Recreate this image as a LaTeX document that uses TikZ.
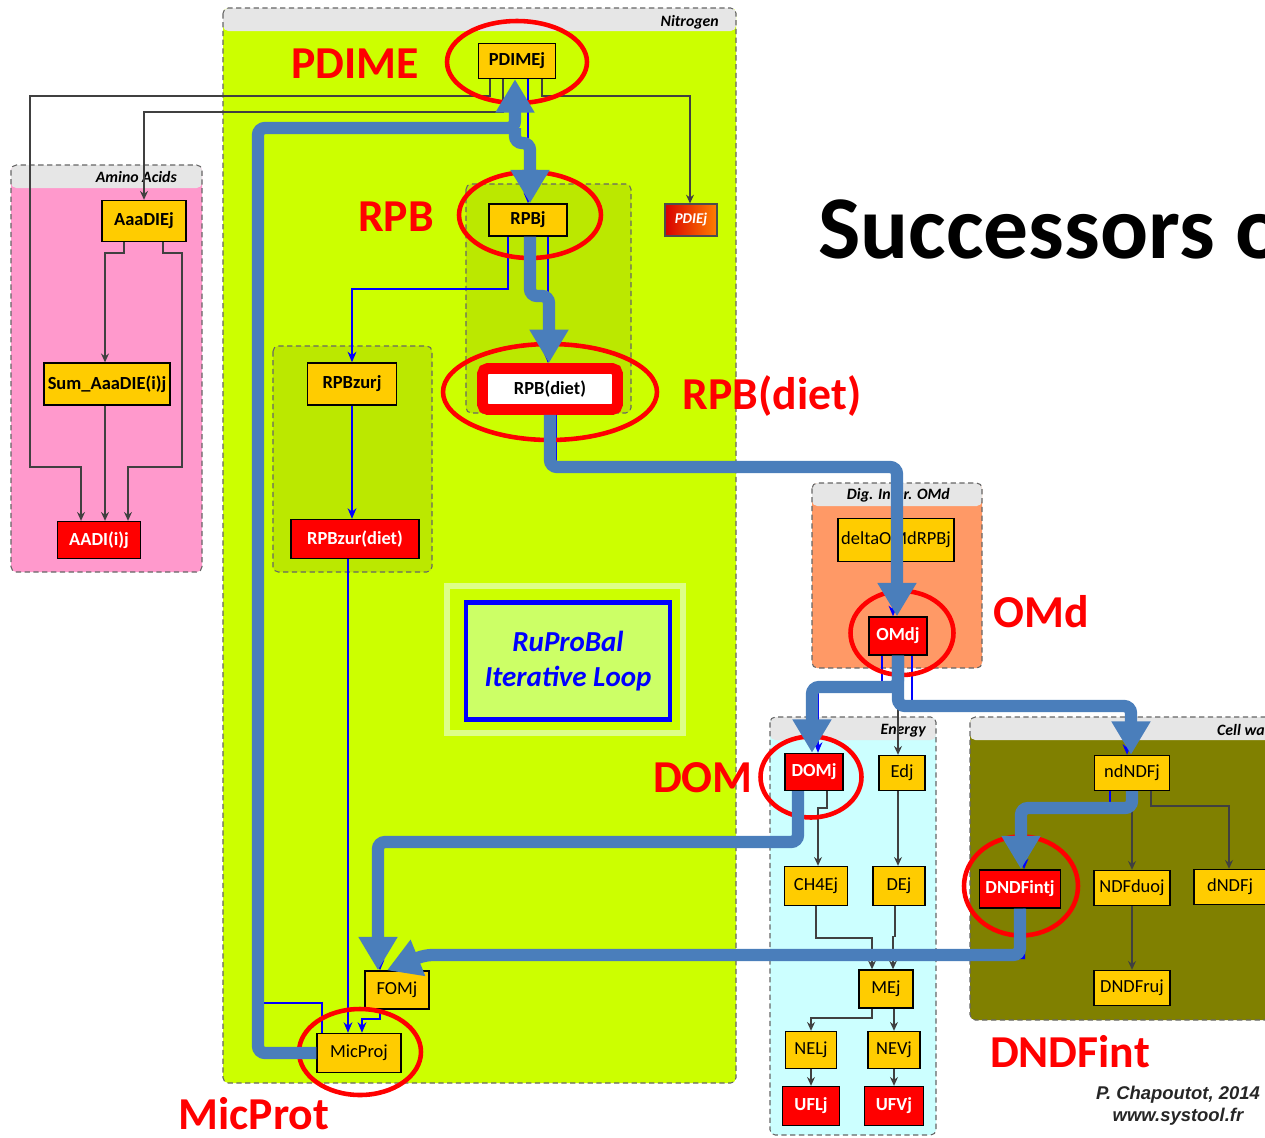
\documentclass[tikz,border=0pt]{standalone}
\usepackage{fontspec}
\setmainfont{Carlito}
\newfontfamily\creditfont{Liberation Sans}
\usepackage{xcolor}
\usepackage{tikz}
\usetikzlibrary{positioning,arrows.meta,shapes.geometric,calc}
\definecolor{nitrofill}{RGB}{204,255,0}
\definecolor{subfill}{RGB}{187,232,0}
\definecolor{aminofill}{RGB}{255,153,204}
\definecolor{omdfill}{RGB}{255,153,102}
\definecolor{energyfill}{RGB}{204,255,255}
\definecolor{cellfill}{RGB}{128,128,0}
\definecolor{headgray}{RGB}{230,230,230}
\definecolor{varyellow}{RGB}{255,204,0}
\definecolor{varred}{RGB}{255,0,0}
\definecolor{flowblue}{RGB}{74,126,187}
\definecolor{loopfill}{RGB}{204,255,102}
\definecolor{loopframe}{RGB}{221,255,136}
\tikzset{
  panel/.style={draw=black!60, dash pattern=on 3pt off 2pt, line width=0.6pt, rounded corners=3pt,
                path picture={\fill[headgray] (path picture bounding box.north west)
                  rectangle ([yshift=-0.46cm]path picture bounding box.north east);}},
  subpanel/.style={draw=black!60, dash pattern=on 3pt off 2pt, line width=0.6pt,
                   rounded corners=3pt, fill=subfill},
  paneltitle/.style={anchor=east, font=\fontsize{9}{10}\selectfont\bfseries\itshape},
  var/.style={draw=black, line width=0.8pt, fill=varyellow, inner sep=1pt,
              font=\fontsize{10.5}{12}\selectfont},
  boldvar/.style={var, font=\fontsize{10.5}{12}\selectfont\bfseries},
  outvar/.style={var, fill=varred, text=white, font=\fontsize{10.5}{12}\selectfont\bfseries},
  ring/.style={ellipse, draw=red, line width=2.6pt, inner sep=0pt},
  tag/.style={anchor=base, text=red, font=\fontsize{26}{30}\selectfont\bfseries},
  link/.style={draw=black!75, line width=0.7pt, -{Stealth[length=5pt,width=4.5pt]}},
  nlink/.style={draw=blue, line width=1.2pt, -{Stealth[length=6pt,width=5pt]}},
  flow/.style={draw=flowblue, line width=7pt, rounded corners=4pt,
               -{Triangle[length=19pt,width=21pt]}},
}

\begin{document}
\begin{tikzpicture}[x=0.02cm, y=-0.02cm]
  \useasboundingbox (0,0) rectangle (1265,1137);
  \clip (0,0) rectangle (1265,1137);

  % panels
  \path[panel, fill=nitrofill] (223,8) rectangle (736,1083);
  \path[panel, fill=aminofill] (11,165) rectangle (202,572);
  \path[panel, fill=omdfill] (812,483) rectangle (982,668);
  \path[panel, fill=energyfill] (770,717) rectangle (936,1135);
  \path[panel, fill=cellfill] (970,717) rectangle (1300,1020);
  \path[subpanel] (466,184) rectangle (631,413);
  \path[subpanel] (273,346) rectangle (432,572);
  \node[paneltitle] (nitrotitle) at (725,22) {Nitrogen};
  \node[paneltitle] (aminotitle) at (183,177) {Amino Acids};
  \node[paneltitle] (omdtitle) at (956,495) {Dig. Inter. OMd};
  \node[paneltitle] (energytitle) at (932,731) {Energy};
  \node[paneltitle, anchor=west] (celltitle) at (1211,730) {Cell wall};

  % loop box
  \draw[loopframe, line width=3.4pt] (447,586) rectangle (683,733);
  \node[draw=blue, line width=2.8pt, fill=loopfill, minimum width=4.08cm, minimum height=2.34cm,
        align=center, text=blue, font=\fontsize{16.5}{20}\selectfont\bfseries\itshape]
        (loopbox) at (568,661) {RuProBal\\Iterative Loop};

  % variables
  \node[boldvar, minimum width=1.68cm, minimum height=0.82cm] (AaaDIEj) at (144,221) {AaaDIEj};
  \node[boldvar, minimum width=2.52cm, minimum height=0.84cm] (SumAaa) at (107,384) {Sum\_AaaDIE(i)j};
  \node[outvar, minimum width=1.66cm, minimum height=0.74cm] (AADI) at (99,540) {AADI(i)j};

  \node[boldvar, minimum width=1.54cm, minimum height=0.70cm] (PDIMEj) at (517,61) {PDIMEj};
  \node[boldvar, minimum width=1.56cm, minimum height=0.64cm] (RPBj) at (528,220) {RPBj};
  \node[draw=black!70, line width=0.6pt, left color=red!85!black, right color=orange, text=white,
        inner sep=1pt, font=\fontsize{8.5}{10}\selectfont\bfseries\itshape,
        minimum width=1.04cm, minimum height=0.64cm] (PDIEj) at (691,220) {PDIEj};
  \node[draw=varred, line width=6.2pt, fill=white, rounded corners=3pt, inner sep=1pt,
        minimum width=2.70cm, minimum height=0.82cm, font=\fontsize{10.5}{12}\selectfont\bfseries]
        (RPBdiet) at (550,389) {RPB(diet)};
  \node[boldvar, minimum width=1.78cm, minimum height=0.84cm] (RPBzurj) at (352,384) {RPBzurj};
  \node[outvar, minimum width=2.56cm, minimum height=0.78cm] (RPBzurdiet) at (355,539) {RPBzur(diet)};
  \node[var, minimum width=1.28cm, minimum height=0.76cm] (FOMj) at (397,990) {FOMj};
  \node[var, minimum width=1.68cm, minimum height=0.78cm] (MicProj) at (359,1053) {MicProj};

  \node[var, minimum width=2.32cm, minimum height=0.86cm, font=\fontsize{10.5}{12}\selectfont]
        (deltaOMd) at (896,540) {deltaOMdRPBj};
  \node[outvar, minimum width=1.16cm, minimum height=0.76cm] (OMdj) at (898,636) {OMdj};

  \node[outvar, minimum width=1.16cm, minimum height=0.74cm] (DOMj) at (814,772) {DOMj};
  \node[var, minimum width=0.92cm, minimum height=0.70cm] (Edj) at (902,773) {Edj};
  \node[var, minimum width=1.26cm, minimum height=0.78cm] (CH4Ej) at (816,886) {CH4Ej};
  \node[var, minimum width=1.04cm, minimum height=0.78cm] (DEj) at (899,886) {DEj};
  \node[var, minimum width=1.08cm, minimum height=0.76cm] (MEj) at (886,989) {MEj};
  \node[var, minimum width=1.02cm, minimum height=0.74cm] (NELj) at (811,1050) {NELj};
  \node[var, minimum width=1.04cm, minimum height=0.74cm] (NEVj) at (894,1050) {NEVj};
  \node[outvar, minimum width=1.14cm, minimum height=0.78cm] (UFLj) at (811,1106) {UFLj};
  \node[outvar, minimum width=1.18cm, minimum height=0.78cm] (UFVj) at (894,1106) {UFVj};

  \node[var, minimum width=1.50cm, minimum height=0.70cm] (ndNDFj) at (1132,773) {ndNDFj};
  \node[outvar, minimum width=1.62cm, minimum height=0.76cm] (DNDFintj) at (1020,889) {DNDFintj};
  \node[var, minimum width=1.52cm, minimum height=0.70cm] (NDFduoj) at (1132,888) {NDFduoj};
  \node[var, minimum width=1.44cm, minimum height=0.70cm] (dNDFj) at (1230,887) {dNDFj};
  \node[var, minimum width=1.52cm, minimum height=0.70cm] (DNDFruj) at (1132,988) {DNDFruj};

  % thin links
  \draw[link] ($(PDIMEj.south)+(-27,0)$) |- (30,96) |- (81,467) -- ($(AADI.north)+(-18,0)$);
  \draw[link] ($(PDIMEj.south)+(-14,0)$) |- (144,112) -- (AaaDIEj.north);
  \draw[link] ($(PDIMEj.south)+(25,0)$) |- (690,96) -- ($(PDIEj.north)+(-1,0)$);
  \draw[link] ($(AaaDIEj.south)+(-20,0)$) |- (105,253) -- ($(SumAaa.north)+(-2,0)$);
  \draw[link] ($(AaaDIEj.south)+(19,0)$) |- (182,253) |- (128,467) -- ($(AADI.north)+(29,0)$);
  \draw[link] ($(SumAaa.south)+(-2,0)$) -- ($(AADI.north)+(6,0)$);
  \draw[link] (OMdj.south) -- ($(Edj.north)+(-4,0)$);
  \draw[link] ($(DOMj.south)+(13,0)$) |- (818,808) -- ($(CH4Ej.north)+(2,0)$);
  \draw[link] ($(Edj.south)+(-4,0)$) -- ($(DEj.north)+(-1,0)$);
  \draw[link] (CH4Ej.south) |- (872,938) -- ($(MEj.north)+(-14,0)$);
  \draw[link] ($(DEj.south)+(-4,0)$) -- ++(0,30) -| ($(MEj.north)+(7,0)$);
  \draw[link] ($(MEj.south)+(-14,0)$) |- (811,1018) -- (NELj.north);
  \draw[link] ($(MEj.south)+(8,0)$) -- (NEVj.north);
  \draw[link] (NELj) -- (UFLj);
  \draw[link] (NEVj) -- (UFVj);
  \draw[link] (ndNDFj.south) -- (NDFduoj.north);
  \draw[link] ($(ndNDFj.south)+(19,0)$) |- (1229,806) -- ($(dNDFj.north)+(-1,0)$);
  \draw[link] (NDFduoj) -- (DNDFruj);

  \draw[nlink] ($(PDIMEj.south)+(11,0)$) -- (RPBj.north);
  \draw[nlink] ($(RPBj.south)+(-20,0)$) |- (352,289) -- (RPBzurj.north);
  \draw[nlink] ($(RPBj.south)+(20,0)$) -- ($(RPBdiet.north)+(-2,0)$);
  \draw[nlink] (RPBzurj.south) -- (RPBzurj.south |- RPBzurdiet.north);
  \draw[nlink] ($(RPBzurdiet.south)+(-7,0)$) -- ($(MicProj.north)+(-11,0)$);
  \draw[nlink] ($(FOMj.south)+(-17,0)$) |- (362,1019) -- ($(MicProj.north)+(3,0)$);
  \draw[nlink, -] ($(MicProj.north)+(-37,0)$) |- (258,1003);
  \draw[nlink] ($(RPBdiet.south)+(6,0)$) |- (893,464) -- ($(OMdj.north)+(-5,0)$);
  \draw[nlink] ($(OMdj.south)+(-16,0)$) |- (818,690) -- ($(DOMj.north)+(4,0)$);
  \draw[nlink] ($(OMdj.south)+(14,0)$) |- (1127,708) -- ($(ndNDFj.north)+(-5,0)$);
  \draw[nlink] ($(ndNDFj.south)+(-22,0)$) |- (1024,810) -- ($(DNDFintj.north)+(4,0)$);
  \draw[nlink] ($(DOMj.south)+(-14,0)$) |- (380,842) -- ($(FOMj.north)+(-17,0)$);
  \draw[nlink] ($(DNDFintj.south)+(4,0)$) |- (412,958) -- ($(FOMj.north)+(4,0)$);

  % highlight rings
  \node[ring, minimum width=2.80cm, minimum height=1.64cm] (ringPDIME) at (517,62) {};
  \node[ring, minimum width=2.84cm, minimum height=1.72cm] (ringRPB) at (530,215) {};
  \node[ring, minimum width=4.28cm, minimum height=1.92cm] (ringRPBdiet) at (550,392) {};
  \node[ring, minimum width=2.06cm, minimum height=1.68cm] (ringOMd) at (902,633) {};
  \node[ring, minimum width=2.02cm, minimum height=1.62cm] (ringDOM) at (811,777) {};
  \node[ring, minimum width=2.28cm, minimum height=1.98cm] (ringDNDFint) at (1021,886) {};
  \node[ring, minimum width=2.44cm, minimum height=1.72cm] (ringMicProt) at (360,1052) {};

  % main flow
  \coordinate (loopfork) at (515,128);
  \draw[flow] (MicProj.west) -| (258,128) -| ($(PDIMEj.south)+(-2,0)$);
  \draw[flow] (loopfork) -- (515,143) -| ($(RPBj.north)+(2,0)$);
  \draw[flow] ($(RPBj.south)+(2,0)$) |- (549,296) -- ($(RPBdiet.north)+(-1,0)$);
  \draw[flow] (RPBdiet.south) |- (897,467) -- ($(OMdj.north)+(-1,0)$);
  \draw[flow] (OMdj.south) |- (812,687) -- ($(DOMj.north)+(-2,0)$);
  \draw[flow] (OMdj.south) |- (1131,706) -- ($(ndNDFj.north)+(-1,0)$);
  \draw[flow] ($(DOMj.south)+(-16,0)$) |- (378,842) -- ($(FOMj.north)+(-19,0)$);
  \draw[flow] (ndNDFj.south) |- (1021,808) -- ($(DNDFintj.north)+(1,0)$);
  \draw[flow] (DNDFintj.south) |- (425,955) -- ($(FOMj.north)+(-10,0)$);

  % red tags
  \node[tag] (tagPDIME) at (355,78) {PDIME};
  \node[tag] (tagRPB) at (396,231) {RPB};
  \node[tag] (tagRPBdiet) at (772,409) {RPB(diet)};
  \node[tag] (tagOMd) at (1041,627) {OMd};
  \node[tag] (tagDOM) at (703,792) {DOM};
  \node[tag] (tagDNDFint) at (1070,1067) {DNDFint};
  \node[tag] (tagMicProt) at (254,1129) {MicProt};

  \node[anchor=base west, font=\fontsize{51}{60}\selectfont\bfseries] (title) at (812,258) {Successors o};
  \node[align=center, text=black!85, font=\creditfont\fontsize{10.5}{12.5}\selectfont\bfseries\itshape]
        (credit) at (1178,1106) {P. Chapoutot, 2014\\www.systool.fr};
\end{tikzpicture}
\end{document}
